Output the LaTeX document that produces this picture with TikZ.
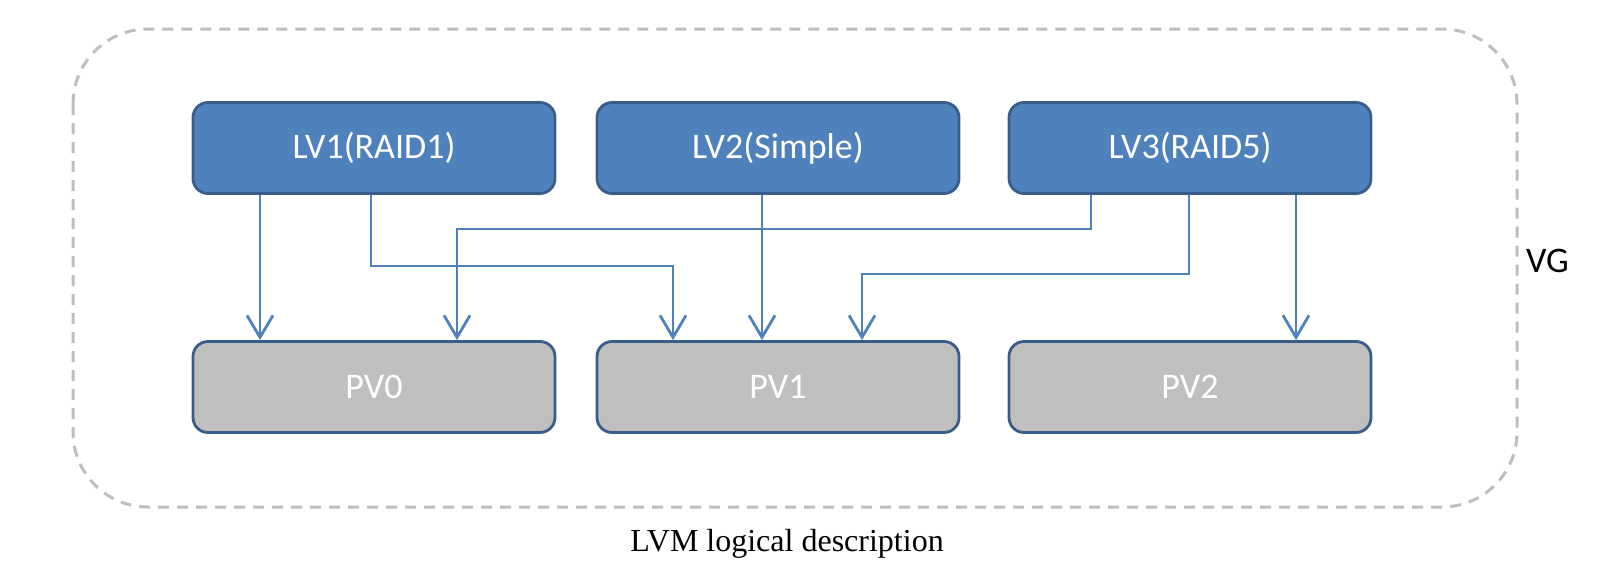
\documentclass[tikz,border=0pt]{standalone}
\usepackage{fontspec}
\setmainfont{Carlito}
\newfontfamily\captionfont{Liberation Serif}
\usetikzlibrary{arrows.meta}

\definecolor{lvfill}{RGB}{79,129,189}
\definecolor{boxline}{RGB}{56,93,138}
\definecolor{pvfill}{RGB}{191,191,191}
\definecolor{vgline}{RGB}{190,190,190}

\begin{document}
\begin{tikzpicture}[x=1pt,y=-1pt,
  lvbox/.style={draw=boxline, fill=lvfill, line width=2.8pt, rounded corners=15pt,
    minimum width=362pt, minimum height=91pt, inner sep=0pt, text=white,
    font=\fontsize{36}{40}\selectfont},
  pvbox/.style={lvbox, fill=pvfill},
  link/.style={draw=lvfill, line width=2.8pt, -{Straight Barb[length=22pt,width=26pt,line width=2.8pt]}}]
\useasboundingbox (0,0) rectangle (1611,581);

%Shape: Rounded Rectangle (VG)
\draw [vgline, line width=3pt, dash pattern=on 11pt off 8pt, rounded corners=75pt] (73,29) rectangle (1517,507);

% LV row
\node [lvbox] (lv1) at (374,148) {LV1(RAID1)};
\node [lvbox] (lv2) at (778,148) {LV2(Simple)};
\node [lvbox] (lv3) at (1190,148) {LV3(RAID5)};
% PV row
\node [pvbox] (pv0) at (374,387) {PV0};
\node [pvbox] (pv1) at (778,387) {PV1};
\node [pvbox] (pv2) at (1190,387) {PV2};

% connector columns and bends
\coordinate (c1) at (260,0);
\coordinate (c2) at (371,0);
\coordinate (k2) at (673,266);
\coordinate (c3) at (1091,0);
\coordinate (k3) at (457,229);
\coordinate (c4) at (762,0);
\coordinate (c5) at (1189,0);
\coordinate (k5) at (862,274);
\coordinate (c6) at (1296,0);

%Straight Lines
\draw [link] (lv1.south -| c1) -- (pv0.north -| c1);
\draw [link] (lv1.south -| c2) |- (k2) -- (k2 |- pv1.north);
\draw [link] (lv3.south -| c3) |- (k3) -- (k3 |- pv0.north);
\draw [link] (lv2.south -| c4) -- (pv1.north -| c4);
\draw [link] (lv3.south -| c5) |- (k5) -- (k5 |- pv1.north);
\draw [link] (lv3.south -| c6) -- (pv2.north -| c6);

% Text Node
\node [anchor=base west, inner sep=0pt, font=\fontsize{36}{40}\selectfont] (vg) at (1526,272) {VG};
% Text Node
\node [anchor=base, inner sep=0pt, font=\captionfont\fontsize{32}{38}\selectfont] (caption) at (787,551) {LVM logical description};

\end{tikzpicture}
\end{document}
